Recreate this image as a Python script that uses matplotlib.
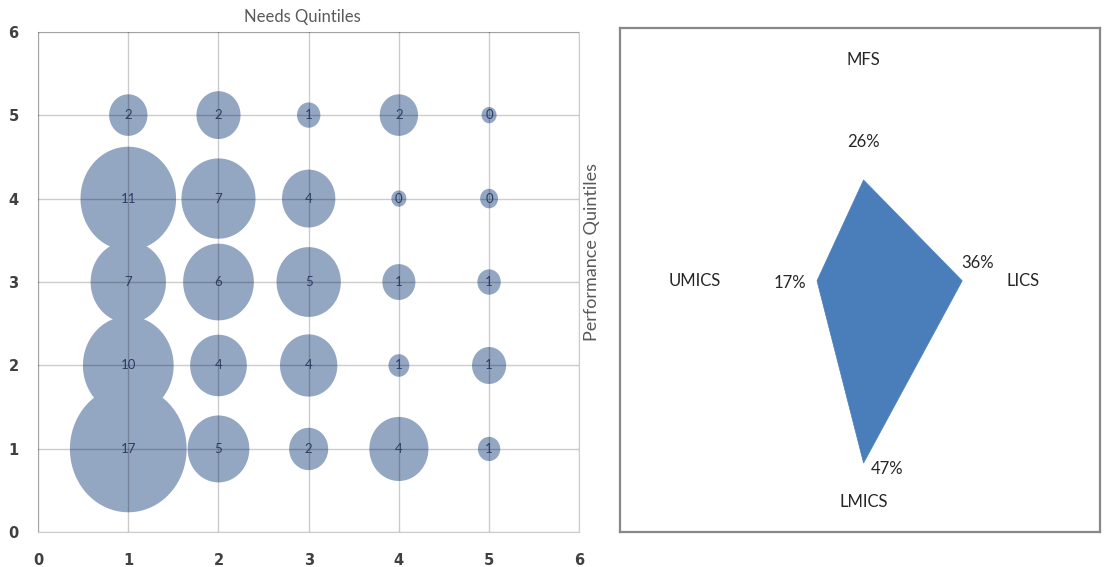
import numpy as np
import matplotlib.pyplot as plt
from matplotlib.path import Path

plt.rcParams['font.family'] = ['Lato', 'DejaVu Sans']

# bubble grid: needs quintile (x) by performance quintile (y)
needs_q = [1, 2, 3, 4, 5]
perf_q = [5, 4, 3, 2, 1]
counts = [
    [1.83, 2.42, 0.68, 1.83, 0.28],   # performance 5
    [11.4, 6.84, 3.55, 0.28, 0.40],   # performance 4
    [7.08, 6.24, 5.16, 1.36, 0.68],   # performance 3
    [10.27, 4.01, 4.10, 0.54, 1.45],  # performance 2
    [17.0, 4.75, 1.90, 4.35, 0.62],   # performance 1
]

# radar: income group shares
groups = ['MFS', 'LICS', 'LMICS', 'UMICS']
shares = [26, 36, 47, 17]

fig = plt.figure(figsize=(11.04, 5.67), dpi=100)

# ---- bubble chart ----
ax = fig.add_axes([0.0345, 0.0610, 0.4902, 0.8832])
ax.set_xlim(0, 6)
ax.set_ylim(0, 6)

# slightly tall ellipse marker
t = np.linspace(0, 2 * np.pi, 120)
ell = Path(np.column_stack([np.cos(t) / 1.085, np.sin(t)]), closed=True)

xs, ys, vs = [], [], []
for row, p in zip(counts, perf_q):
    for v, n in zip(row, needs_q):
        xs.append(n)
        ys.append(p)
        vs.append(v)
vs = np.array(vs)
ax.scatter(xs, ys, s=vs * 489, marker=ell, color='#93a6c2', linewidths=0, zorder=2)
for x, y, v in zip(xs, ys, vs):
    ax.text(x, y, '{:.0f}'.format(v), ha='center', va='center', fontsize=9.5,
            color='#2c3d66', zorder=4)

ax.set_xticks(range(7))
ax.set_yticks(range(7))
ax.grid(True, color='black', alpha=0.2, linewidth=1, zorder=3)
ax.set_axisbelow(False)
for sp in ax.spines.values():
    sp.set_color('#cccccc')
ax.tick_params(length=0, labelsize=10.5, labelcolor='#404040')
ax.tick_params(axis='x', pad=15)
ax.tick_params(axis='y', pad=14)
for lbl in ax.get_xticklabels() + ax.get_yticklabels():
    lbl.set_fontweight('bold')
    lbl.set_fontfamily('DejaVu Sans')

fig.text(302 / 1104, 1 - 17 / 567, 'Needs Quintiles', ha='center', va='center',
         fontsize=12, color='#595959')
fig.text(592 / 1104, 1 - 252 / 567, 'Performance Quintiles', ha='center', va='center',
         rotation=90, fontsize=13, color='#595959')

# ---- radar panel ----
rx = fig.add_axes([0.5616, 0.0617, 0.4348, 0.8889])
rx.set_xlim(-88.9, 86.3)
rx.set_ylim(-64.8, 65.2)
rx.set_xticks([])
rx.set_yticks([])
for sp in rx.spines.values():
    sp.set_color('#888888')
    sp.set_linewidth(1.6)

ang = np.deg2rad([0, 90, 180, 270])
dx = np.round(np.sin(ang), 6)
dy = np.round(np.cos(ang), 6)
px = np.array(shares) * dx
py = np.array(shares) * dy
rx.fill(px, py, color='#4a7ebb', edgecolor='#4a7ebb', linewidth=0.5)

label_ha = ['center', 'left', 'center', 'right']
label_va = ['bottom', 'center', 'top', 'center']
for g, ux, uy, ha, va in zip(groups, dx, dy, label_ha, label_va):
    r = 55 if uy != 0 else 52
    rx.text(ux * r, uy * r, g, ha=ha, va=va, fontsize=12, color='#262626')

pct_offsets = [(0, 38), (15, 18), (24, -6), (-27, -2)]
for x, y, v, off in zip(px, py, shares, pct_offsets):
    rx.annotate('{}%'.format(v), (x, y), xytext=off, textcoords='offset pixels',
                ha='center', va='center', fontsize=12, color='#262626')

fig.savefig('out.png', dpi=100)
